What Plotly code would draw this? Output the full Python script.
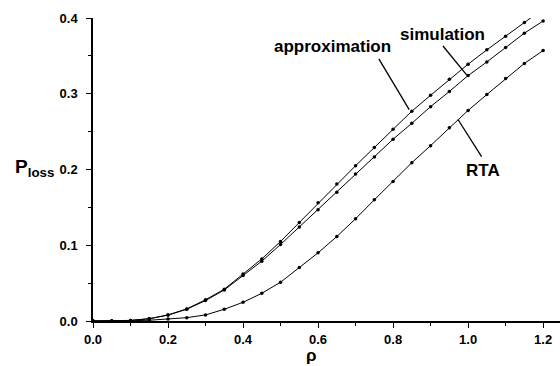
import plotly.graph_objects as go

rho = [0.0, 0.05, 0.1, 0.15, 0.2, 0.25, 0.3, 0.35, 0.4, 0.45, 0.5, 0.55, 0.6,
       0.65, 0.7, 0.75, 0.8, 0.85, 0.9, 0.95, 1.0, 1.05, 1.1, 1.15, 1.2]
approximation = [0.0, 0.0001, 0.0008, 0.003, 0.008, 0.016, 0.028, 0.042, 0.062, 0.082,
                 0.105, 0.130, 0.156, 0.181, 0.205, 0.229, 0.253, 0.277, 0.298, 0.319,
                 0.339, 0.358, 0.376, 0.394, 0.412]
simulation = [0.0, 0.0001, 0.0007, 0.003, 0.0078, 0.0155, 0.027, 0.041, 0.060, 0.079,
              0.101, 0.124, 0.147, 0.170, 0.194, 0.2165, 0.240, 0.261, 0.283, 0.303,
              0.324, 0.342, 0.361, 0.380, 0.396]
rta = [0.0, 0.0, 0.0003, 0.001, 0.0026, 0.0044, 0.008, 0.0155, 0.0247, 0.0366,
       0.0512, 0.0705, 0.090, 0.1115, 0.135, 0.160, 0.184, 0.209, 0.2315, 0.255,
       0.278, 0.299, 0.320, 0.340, 0.357]

x_ticks = [0.0, 0.2, 0.4, 0.6, 0.8, 1.0, 1.2]
y_ticks = [0.0, 0.1, 0.2, 0.3, 0.4]

FONT = "Liberation Sans, Arial, sans-serif"

fig = go.Figure()
for name, ys in [("approximation", approximation), ("simulation", simulation), ("RTA", rta)]:
    fig.add_trace(go.Scatter(
        x=rho, y=ys, mode="lines+markers", name=name,
        line=dict(color="black", width=1),
        marker=dict(color="black", size=3.5),
        cliponaxis=True,
    ))

# labels with leader lines
labels = [
    # text, text x, text y, line start, line end
    ("approximation", 0.639, 0.362, (0.762, 0.346), (0.843, 0.279)),
    ("simulation", 0.932, 0.378, (0.933, 0.363), (0.996, 0.325)),
    ("RTA", 1.039, 0.199, (1.036, 0.217), (0.973, 0.266)),
]
for text, tx, ty, p0, p1 in labels:
    fig.add_annotation(x=tx, y=ty, xref="x", yref="y", text=text, showarrow=False,
                       font=dict(family=FONT, size=17, color="black", weight="bold"))
    fig.add_shape(type="line", xref="x", yref="y", x0=p0[0], y0=p0[1], x1=p1[0], y1=p1[1],
                  line=dict(color="black", width=1.3))

# axis titles (paper coordinates so they are not hidden outside the axis range)
fig.add_annotation(x=-0.172, y=0.505, xref="paper", yref="paper", xanchor="left",
                   text="P<sub>loss</sub>", showarrow=False,
                   font=dict(family=FONT, size=19, color="black", weight="bold"))
fig.add_annotation(x=0.467, y=-0.1485, xref="paper", yref="paper", yanchor="bottom",
                   text="ρ", showarrow=False, borderpad=0,
                   font=dict(family=FONT, size=17, color="black", weight="bold"))

axis_common = dict(
    showgrid=False, zeroline=False, showline=True, linecolor="black", linewidth=1.5,
    ticks="outside", ticklen=5, tickwidth=1.3, tickcolor="black",
    tickfont=dict(family=FONT, size=13, color="black", weight="bold"),
    tickformat=".1f",
)
fig.update_xaxes(range=[0, 1.245], tickvals=x_ticks, ticklabelstandoff=1,
                 minor=dict(dtick=0.1, tick0=0, ticks="outside", ticklen=3, tickcolor="black"),
                 **axis_common)
fig.update_yaxes(range=[0, 0.4], tickvals=y_ticks, ticklabelstandoff=6,
                 minor=dict(dtick=0.05, tick0=0, ticks="outside", ticklen=3, tickcolor="black"),
                 **axis_common)

fig.update_layout(
    width=560, height=366,
    margin=dict(l=93, r=0, t=18, b=45),
    paper_bgcolor="white", plot_bgcolor="white",
    showlegend=False,
)

fig.write_html("out.html")
